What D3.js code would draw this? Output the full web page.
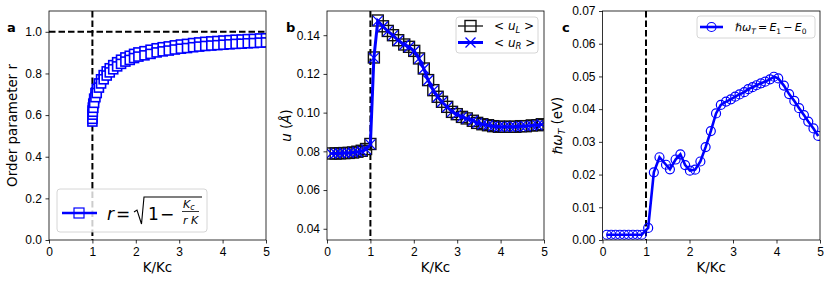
<!DOCTYPE html>
<html lang="en">
<head>
<meta charset="UTF-8">
<title>Order parameter, displacement and gap vs K/Kc</title>
<script src="https://d3js.org/d3.v7.min.js"></script>
<style>
  body { margin: 0; background: #fff; }
  svg { display: block; font-family: "DejaVu Sans", sans-serif; }
  .axis text { font-size: 12px; fill: #000; }
  .axis line { stroke: #000; stroke-width: 0.8; }
  .axis path { display: none; }
  .lab { font-size: 13.4px; fill: #000; }
  .letter { font-size: 13px; font-weight: bold; }
  .leg { fill: #fff; fill-opacity: 0.8; stroke: #ccc; stroke-width: 0.8; }
</style>
</head>
<body>
<div id="fig"></div>
<script>
// ---- data ----
const ticksX = [0, 1, 2, 3, 4, 5];
const ticksA = [0, 0.2, 0.4, 0.6, 0.8, 1.0];
const ticksB = [0.04, 0.06, 0.08, 0.10, 0.12, 0.14];
const ticksC = [0, 0.01, 0.02, 0.03, 0.04, 0.05, 0.06, 0.07];

// panel a : order parameter, two rows of markers
const kA = [1.0, 1.0, 1.005, 1.01, 1.02, 1.04, 1.07, 1.1, 1.15, 1.2, 1.26, 1.33, 1.4, 1.48, 1.57, 1.66, 1.76, 1.86, 1.96, 2.06,
  2.2, 2.34, 2.48, 2.62, 2.76, 2.9, 3.04, 3.18, 3.32, 3.46, 3.6, 3.74, 3.88, 4.02, 4.16, 4.3, 4.44, 4.58, 4.72, 4.86, 5.0];
const rUpper = [0.589, 0.602, 0.622, 0.636, 0.655, 0.679, 0.706, 0.726, 0.752, 0.772, 0.792, 0.810, 0.825, 0.840, 0.854, 0.866, 0.877, 0.885, 0.894, 0.901,
  0.907, 0.914, 0.921, 0.926, 0.930, 0.935, 0.939, 0.942, 0.946, 0.949, 0.952, 0.954, 0.956, 0.958, 0.960, 0.962, 0.963, 0.965, 0.966, 0.968, 0.969];
const rLower = [0.569, 0.582, 0.602, 0.616, 0.635, 0.659, 0.686, 0.706, 0.732, 0.752, 0.772, 0.790, 0.805, 0.820, 0.834, 0.846, 0.857, 0.865, 0.874, 0.881,
  0.887, 0.894, 0.901, 0.906, 0.910, 0.915, 0.919, 0.922, 0.926, 0.929, 0.932, 0.934, 0.936, 0.938, 0.940, 0.942, 0.943, 0.945, 0.946, 0.948, 0.949];

// panel b : <u_L>, <u_R>
const kB = [0.1, 0.2, 0.3, 0.4, 0.5, 0.6, 0.7, 0.8, 0.9, 1.0, 1.08, 1.17, 1.29, 1.40, 1.52, 1.64, 1.78, 1.89, 2.01, 2.12, 2.23, 2.33,
  2.45, 2.55, 2.65, 2.77, 2.88, 2.99, 3.11, 3.22, 3.36, 3.46, 3.58, 3.71, 3.83, 3.96, 4.09, 4.22, 4.34, 4.47, 4.58, 4.72, 4.85, 4.95];
const uL = [0.0789, 0.0789, 0.0790, 0.0791, 0.0792, 0.0794, 0.0798, 0.0803, 0.0812, 0.0838, 0.1285, 0.1476, 0.1446, 0.1422, 0.1400,
  0.1374, 0.1352, 0.1340, 0.1319, 0.1280, 0.1228, 0.1168, 0.1116, 0.1082, 0.1056, 0.1030, 0.1004, 0.0992, 0.0978, 0.0970, 0.0958,
  0.0947, 0.0940, 0.0935, 0.0930, 0.0927, 0.0927, 0.0927, 0.0927, 0.0930, 0.0930, 0.0934, 0.0935, 0.0940];
const uR = [0.0789, 0.0789, 0.0790, 0.0791, 0.0792, 0.0794, 0.0797, 0.0802, 0.0810, 0.0836, 0.1283, 0.1474, 0.1445, 0.1421, 0.1399,
  0.1373, 0.1351, 0.1339, 0.1318, 0.1279, 0.1227, 0.1167, 0.1115, 0.1081, 0.1055, 0.1029, 0.1004, 0.0991, 0.0978, 0.0969, 0.0958,
  0.0947, 0.0940, 0.0935, 0.0930, 0.0927, 0.0927, 0.0927, 0.0927, 0.0929, 0.0930, 0.0933, 0.0935, 0.0939];

// panel c : hbar omega_T = E1 - E0
const kC = [0.1, 0.2, 0.3, 0.4, 0.5, 0.6, 0.7, 0.8, 0.9, 1.05, 1.18, 1.31, 1.46, 1.55, 1.68, 1.79, 1.90, 2.01, 2.13, 2.25, 2.37,
  2.49, 2.61, 2.72, 2.84, 2.95, 3.05, 3.15, 3.26, 3.35, 3.45, 3.54, 3.64, 3.74, 3.85, 3.94, 4.04, 4.17, 4.29, 4.41, 4.52,
  4.63, 4.73, 4.85, 4.96];
const hw = [0.0016, 0.0016, 0.0016, 0.0016, 0.0016, 0.0016, 0.0016, 0.0016, 0.0016, 0.0037, 0.0207, 0.0253, 0.0230, 0.0216, 0.0246,
  0.0262, 0.0229, 0.0212, 0.0215, 0.0240, 0.0284, 0.0333, 0.0387, 0.0413, 0.0423, 0.0430, 0.0438, 0.0445, 0.0452, 0.0461,
  0.0467, 0.0473, 0.0479, 0.0484, 0.0491, 0.0499, 0.0494, 0.0472, 0.0446, 0.0425, 0.0403, 0.0382, 0.0362, 0.0341, 0.0318];

const W = 831, H = 282;
const BLUE = '#0000ff';
const svg = d3.select('#fig').append('svg').attr('width', W).attr('height', H);

function makePanel(id, box, yDomain) {
  const x = d3.scaleLinear().domain([0, 5]).range([box.l, box.r]);
  const y = d3.scaleLinear().domain(yDomain).range([box.b, box.t]);
  svg.append('clipPath').attr('id', id).append('rect')
    .attr('x', box.l).attr('y', box.t).attr('width', box.r - box.l).attr('height', box.b - box.t);
  const plot = svg.append('g').attr('clip-path', `url(#${id})`);
  return { x, y, plot, box };
}

function drawAxes(p, yTicks, yFmt) {
  const b = p.box;
  svg.append('g').attr('class', 'axis').attr('transform', `translate(0,${b.b})`)
    .call(d3.axisBottom(p.x).tickValues(ticksX).tickSize(3.5).tickPadding(3.5).tickFormat(d3.format('d')));
  svg.append('g').attr('class', 'axis').attr('transform', `translate(${b.l},0)`)
    .call(d3.axisLeft(p.y).tickValues(yTicks).tickSize(3.5).tickPadding(3.5).tickFormat(yFmt));
  svg.append('rect').attr('x', b.l).attr('y', b.t).attr('width', b.r - b.l).attr('height', b.b - b.t)
    .attr('fill', 'none').attr('stroke', '#000').attr('stroke-width', 0.8);
  svg.append('text').attr('class', 'lab').attr('x', (b.l + b.r) / 2).attr('y', 271.5)
    .attr('text-anchor', 'middle').text('K/Kc');
}

const DASH = '6.5,3';
function dashV(p, xv) {
  p.plot.append('line').attr('x1', p.x(xv)).attr('x2', p.x(xv)).attr('y1', p.box.t).attr('y2', p.box.b)
    .attr('stroke', '#000').attr('stroke-width', 2).attr('stroke-dasharray', DASH);
}

// ---------- panel a ----------
const pa = makePanel('clipA', { l: 49, r: 266, t: 11, b: 240 }, [0, 1.1]);
dashV(pa, 1);
pa.plot.append('line').attr('x1', pa.box.l).attr('x2', pa.box.r).attr('y1', pa.y(1)).attr('y2', pa.y(1))
  .attr('stroke', '#000').attr('stroke-width', 2).attr('stroke-dasharray', DASH);
[rUpper, rLower].forEach(rs => {
  const pts = kA.map((k, i) => [k, rs[i]]);
  pa.plot.append('path').datum(pts)
    .attr('d', d3.line().x(d => pa.x(d[0])).y(d => pa.y(d[1])))
    .attr('fill', 'none').attr('stroke', BLUE).attr('stroke-width', 2.5);
  pa.plot.selectAll(null).data(pts).enter().append('rect')
    .attr('x', d => pa.x(d[0]) - 4.5).attr('y', d => pa.y(d[1]) - 4.5)
    .attr('width', 9).attr('height', 9)
    .attr('fill', '#fff').attr('stroke', BLUE).attr('stroke-width', 1.6);
});
drawAxes(pa, ticksA, d3.format('.1f'));
svg.append('text').attr('class', 'lab').attr('transform', 'translate(16.5,125.5) rotate(-90)')
  .attr('text-anchor', 'middle').text('Order parameter r');
svg.append('text').attr('class', 'letter').attr('x', 7).attr('y', 32).text('a');

// legend a
svg.append('rect').attr('class', 'leg').attr('x', 57).attr('y', 189).attr('width', 150).attr('height', 43).attr('rx', 3);
svg.append('line').attr('x1', 62).attr('x2', 97).attr('y1', 213).attr('y2', 213).attr('stroke', BLUE).attr('stroke-width', 2.5);
svg.append('rect').attr('x', 74).attr('y', 208).attr('width', 10).attr('height', 10)
  .attr('fill', 'none').attr('stroke', BLUE).attr('stroke-width', 1.2);
const eq = svg.append('g').style('font-size', '17px');
eq.append('text').attr('x', 107).attr('y', 220).style('font-style', 'italic').text('r');
eq.append('text').attr('x', 116).attr('y', 220).text('=');
eq.append('path').attr('d', 'M134,212 L137,210 L141.5,224 L144,197 L202,197')
  .attr('fill', 'none').attr('stroke', '#000').attr('stroke-width', 1.1);
eq.append('text').attr('x', 148).attr('y', 220).text('1');
eq.append('text').attr('x', 160).attr('y', 220).text('\u2212');
const num = eq.append('text').attr('x', 183).attr('y', 208).style('font-size', '11px').style('font-style', 'italic');
num.append('tspan').text('K');
num.append('tspan').attr('dy', 2).style('font-size', '8px').text('c');
eq.append('line').attr('x1', 182).attr('x2', 199).attr('y1', 211.5).attr('y2', 211.5).attr('stroke', '#000').attr('stroke-width', 0.8);
eq.append('text').attr('x', 190.5).attr('y', 224).attr('text-anchor', 'middle')
  .style('font-size', '11px').style('font-style', 'italic').text('r K');

// ---------- panel b ----------
const pb = makePanel('clipB', { l: 327, r: 544, t: 11, b: 240 }, [0.0342, 0.1525]);
dashV(pb, 1);
const ptsL = kB.map((k, i) => [k, uL[i]]);
const ptsR = kB.map((k, i) => [k, uR[i]]);
pb.plot.append('path').datum(ptsL)
  .attr('d', d3.line().x(d => pb.x(d[0])).y(d => pb.y(d[1])))
  .attr('fill', 'none').attr('stroke', '#000').attr('stroke-width', 1.2);
pb.plot.selectAll(null).data(ptsL).enter().append('rect')
  .attr('x', d => pb.x(d[0]) - 5.5).attr('y', d => pb.y(d[1]) - 5.5)
  .attr('width', 11).attr('height', 11)
  .attr('fill', 'none').attr('stroke', '#111').attr('stroke-width', 1.4);
pb.plot.append('path').datum(ptsR)
  .attr('d', d3.line().x(d => pb.x(d[0])).y(d => pb.y(d[1])))
  .attr('fill', 'none').attr('stroke', BLUE).attr('stroke-width', 3);
pb.plot.selectAll(null).data(ptsR).enter().append('path')
  .attr('transform', d => `translate(${pb.x(d[0])},${pb.y(d[1])})`)
  .attr('d', 'M-5,-5L5,5M-5,5L5,-5')
  .attr('fill', 'none').attr('stroke', BLUE).attr('stroke-width', 1.3);
drawAxes(pb, ticksB, d3.format('.2f'));
const ylb = svg.append('text').attr('class', 'lab').attr('transform', 'translate(291,125.5) rotate(-90)')
  .attr('text-anchor', 'middle');
ylb.append('tspan').style('font-style', 'italic').text('u');
ylb.append('tspan').text(' (');
ylb.append('tspan').style('font-style', 'italic').text('\u00c5');
ylb.append('tspan').text(')');
svg.append('text').attr('class', 'letter').attr('x', 286).attr('y', 32).text('b');

// legend b
svg.append('rect').attr('class', 'leg').attr('x', 456).attr('y', 17).attr('width', 82).attr('height', 36).attr('rx', 3);
svg.append('line').attr('x1', 458).attr('x2', 483).attr('y1', 26).attr('y2', 26).attr('stroke', '#000').attr('stroke-width', 1.2);
svg.append('rect').attr('x', 465).attr('y', 20.5).attr('width', 11).attr('height', 11)
  .attr('fill', 'none').attr('stroke', '#111').attr('stroke-width', 1.4);
svg.append('line').attr('x1', 458).attr('x2', 483).attr('y1', 42.5).attr('y2', 42.5).attr('stroke', BLUE).attr('stroke-width', 3);
svg.append('path').attr('transform', 'translate(470.5,42.5)').attr('d', 'M-5,-5L5,5M-5,5L5,-5')
  .attr('fill', 'none').attr('stroke', BLUE).attr('stroke-width', 1.3);
[['L', 30], ['R', 46.5]].forEach(([s, yy]) => {
  const t = svg.append('text').attr('x', 494).attr('y', yy).style('font-size', '12px');
  t.append('tspan').text('< ');
  t.append('tspan').style('font-style', 'italic').text('u');
  t.append('tspan').attr('dy', 2.5).style('font-size', '8.5px').style('font-style', 'italic').text(s);
  t.append('tspan').attr('dy', -2.5).text(' >');
});

// ---------- panel c ----------
const pc = makePanel('clipC', { l: 602.5, r: 820, t: 11, b: 240 }, [0, 0.07]);
dashV(pc, 1);
const ptsC = kC.map((k, i) => [k, hw[i]]);
pc.plot.append('path').datum(ptsC)
  .attr('d', d3.line().x(d => pc.x(d[0])).y(d => pc.y(d[1])))
  .attr('fill', 'none').attr('stroke', BLUE).attr('stroke-width', 2.6);
pc.plot.selectAll(null).data(ptsC).enter().append('circle')
  .attr('cx', d => pc.x(d[0])).attr('cy', d => pc.y(d[1])).attr('r', 4.5)
  .attr('fill', 'none').attr('stroke', BLUE).attr('stroke-width', 1.2);
drawAxes(pc, ticksC, d3.format('.2f'));
const ylc = svg.append('text').attr('class', 'lab').attr('transform', 'translate(562,125.5) rotate(-90)')
  .attr('text-anchor', 'middle');
ylc.append('tspan').style('font-style', 'italic').text('\u210f\u03c9');
ylc.append('tspan').attr('dy', 2.5).style('font-size', '9.5px').style('font-style', 'italic').text('T');
ylc.append('tspan').attr('dy', -2.5).text(' (eV)');
svg.append('text').attr('class', 'letter').attr('x', 562).attr('y', 32).text('c');

// legend c
svg.append('rect').attr('class', 'leg').attr('x', 697).attr('y', 16).attr('width', 118).attr('height', 22).attr('rx', 3);
svg.append('line').attr('x1', 700).attr('x2', 723).attr('y1', 27).attr('y2', 27).attr('stroke', BLUE).attr('stroke-width', 2.6);
svg.append('circle').attr('cx', 711.5).attr('cy', 27).attr('r', 4.5)
  .attr('fill', 'none').attr('stroke', BLUE).attr('stroke-width', 1.2);
const tc = svg.append('text').attr('x', 735).attr('y', 31).style('font-size', '11px');
tc.append('tspan').style('font-style', 'italic').text('\u210f\u03c9');
tc.append('tspan').attr('dy', 2.5).style('font-size', '7.5px').style('font-style', 'italic').text('T');
tc.append('tspan').attr('dy', -2.5).text('\u2009=\u2009');
tc.append('tspan').style('font-style', 'italic').text('E');
tc.append('tspan').attr('dy', 2.5).style('font-size', '7.5px').text('1');
tc.append('tspan').attr('dy', -2.5).text('\u2009\u2212\u2009');
tc.append('tspan').style('font-style', 'italic').text('E');
tc.append('tspan').attr('dy', 2.5).style('font-size', '7.5px').text('0');
</script>
</body>
</html>
